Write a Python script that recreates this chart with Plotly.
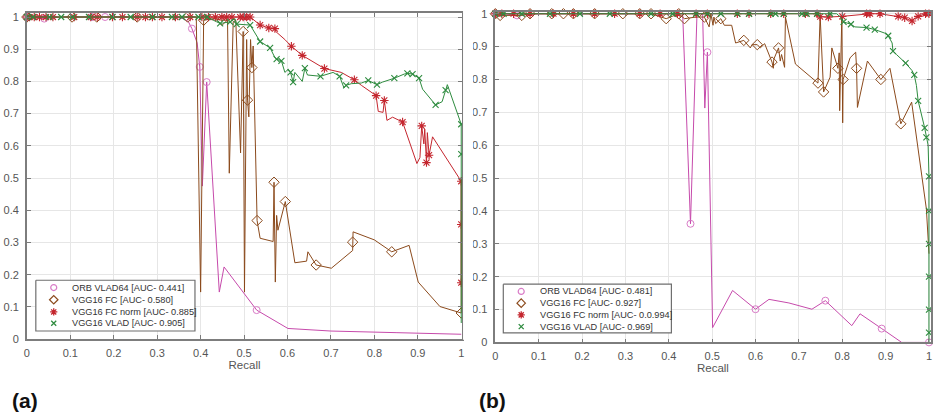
import plotly.graph_objects as go

W, H = 933, 418

# ---------------------------------------------------------------- labels
SERIES_NAMES = ["ORB VLAD64", "VGG16 FC", "VGG16 FC norm", "VGG16 VLAD"]
AUC_A = ["0.441", "0.580", "0.885", "0.905"]
AUC_B = ["0.481", "0.927", "0.0.994", "0.969"]
TICK_VALS = [0, 0.1, 0.2, 0.3, 0.4, 0.5, 0.6, 0.7, 0.8, 0.9, 1.0]
TICK_TEXT = ["0", "0.1", "0.2", "0.3", "0.4", "0.5", "0.6", "0.7", "0.8", "0.9", "1"]
PANEL_LABELS = ["(a)", "(b)"]
X_TITLE = "Recall"

# ---------------------------------------------------------------- panel (a)
orb_a_r = [0.000, 0.010, 0.040, 0.080, 0.150, 0.180, 0.250, 0.300, 0.340, 0.360, 0.372, 0.380,
           0.392, 0.398, 0.404, 0.414, 0.443, 0.454, 0.529, 0.601, 0.700, 0.850, 1.000]
orb_a_p = [1.000, 1.000, 0.995, 1.000, 1.000, 1.000, 1.000, 1.000, 1.000, 0.995, 0.985, 0.964,
           0.920, 0.845, 0.475, 0.798, 0.146, 0.224, 0.090, 0.033, 0.025, 0.020, 0.015]
orb_a_marks = [0, 2, 4, 5, 11, 13, 15, 18]

fc_a_r = [0.000, 0.050, 0.104, 0.161, 0.200, 0.254, 0.300, 0.370, 0.390, 0.400, 0.407, 0.430,
          0.449, 0.462, 0.466, 0.475, 0.481, 0.492, 0.498, 0.501, 0.506, 0.508, 0.511, 0.515,
          0.518, 0.521, 0.530, 0.537, 0.567, 0.569, 0.572, 0.575, 0.578, 0.595, 0.617, 0.644,
          0.647, 0.666, 0.701, 0.750, 0.750, 0.751, 0.800, 0.840, 0.880, 0.901, 0.951, 1.000,
          1.000]
fc_a_p = [1.000, 1.000, 1.000, 1.000, 1.000, 1.000, 1.000, 1.000, 1.000, 0.146, 0.990, 0.995,
          0.990, 0.990, 0.515, 0.985, 0.990, 0.578, 0.955, 0.146, 0.930, 0.742, 0.690, 0.930,
          0.843, 0.910, 0.368, 0.313, 0.303, 0.487, 0.177, 0.384, 0.338, 0.427, 0.237, 0.242,
          0.271, 0.230, 0.220, 0.275, 0.301, 0.333, 0.308, 0.271, 0.291, 0.177, 0.101, 0.081,
          0.490]
fc_a_marks = [0, 2, 3, 5, 7, 10, 12, 18, 21, 24, 26, 29, 33, 37, 40, 43, 47]

fcn_a_r = [0.000, 0.006, 0.017, 0.029, 0.044, 0.060, 0.109, 0.147, 0.162, 0.197, 0.220, 0.254,
           0.273, 0.289, 0.311, 0.342, 0.376, 0.403, 0.418, 0.434, 0.449, 0.460, 0.472, 0.491,
           0.498, 0.506, 0.514, 0.537, 0.552, 0.557, 0.571, 0.573, 0.594, 0.609, 0.634, 0.659,
           0.685, 0.724, 0.754, 0.770, 0.804, 0.809, 0.820, 0.823, 0.829, 0.842, 0.865, 0.898,
           0.905, 0.909, 0.914, 0.916, 0.920, 0.922, 0.926, 0.934, 1.000, 1.000, 1.000]
fcn_a_p = [1.000] * 27 + [
           0.975, 0.970, 0.966, 0.964, 0.955, 0.930, 0.909, 0.881, 0.861, 0.840, 0.828, 0.805,
           0.788, 0.756, 0.707, 0.704, 0.741, 0.679, 0.689, 0.674, 0.545, 0.564, 0.662, 0.606,
           0.652, 0.548, 0.641, 0.571, 0.628, 0.490, 0.356, 0.175]
fcn_a_marks = list(range(27)) + [27, 29, 30, 33, 34, 36, 38, 40, 43, 46, 49, 52, 54, 56, 57, 58]

vlad_a_r = [0.000, 0.014, 0.052, 0.079, 0.105, 0.143, 0.197, 0.239, 0.289, 0.334, 0.357, 0.395,
            0.415, 0.437, 0.445, 0.468, 0.479, 0.483, 0.514, 0.537, 0.560, 0.571, 0.575, 0.586,
            0.590, 0.594, 0.602, 0.607, 0.613, 0.617, 0.634, 0.640, 0.646, 0.676, 0.705, 0.720,
            0.730, 0.735, 0.747, 0.770, 0.786, 0.806, 0.819, 0.846, 0.869, 0.876, 0.888, 0.903,
            0.911, 0.941, 0.956, 0.964, 0.968, 1.000, 1.000, 1.000]
vlad_a_p = [1.000] * 13 + [
            0.985, 0.980, 0.985, 0.995, 0.978, 0.975, 0.924, 0.904, 0.874, 0.869, 0.864, 0.848,
            0.828, 0.838, 0.828, 0.798, 0.828, 0.800, 0.841, 0.820, 0.816, 0.828, 0.816, 0.780,
            0.788, 0.793, 0.795, 0.803, 0.790, 0.798, 0.810, 0.823, 0.825, 0.823, 0.810, 0.776,
            0.727, 0.737, 0.773, 0.790, 0.667, 0.574, 0.050]
vlad_a_marks = list(range(13)) + [14, 15, 17, 18, 19, 20, 22, 23, 27, 28, 31, 33, 35, 37, 40,
                                  41, 43, 45, 46, 47, 49, 51, 53, 54]

# ---------------------------------------------------------------- panel (b)
orb_b_r = [0.000, 0.019, 0.050, 0.100, 0.150, 0.200, 0.250, 0.300, 0.350, 0.400, 0.432, 0.450,
           0.465, 0.478, 0.483, 0.489, 0.501, 0.547, 0.600, 0.631, 0.677, 0.730, 0.761, 0.822,
           0.841, 0.891, 0.937, 1.000]
orb_b_p = [1.000, 1.000, 0.995, 1.000, 1.000, 1.000, 1.000, 1.000, 1.000, 1.000, 1.000, 0.361,
           1.000, 1.000, 0.713, 0.883, 0.045, 0.158, 0.101, 0.131, 0.120, 0.101, 0.127, 0.051,
           0.087, 0.042, 0.000, 0.000]
orb_b_marks = [0, 2, 11, 15, 18, 22, 25, 27]

fc_b_r = [0.000, 0.011, 0.061, 0.080, 0.130, 0.157, 0.180, 0.229, 0.294, 0.333, 0.359, 0.394,
          0.423, 0.436, 0.463, 0.482, 0.493, 0.497, 0.502, 0.504, 0.508, 0.520, 0.528, 0.545,
          0.554, 0.573, 0.588, 0.592, 0.604, 0.611, 0.621, 0.638, 0.641, 0.642, 0.653, 0.657,
          0.660, 0.667, 0.669, 0.692, 0.744, 0.749, 0.757, 0.772, 0.776, 0.790, 0.793, 0.794,
          0.799, 0.801, 0.802, 0.818, 0.825, 0.831, 0.833, 0.835, 0.858, 0.889, 0.910, 0.935,
          0.960, 0.994, 1.000]
fc_b_p = [1.000, 0.995, 0.995, 1.000, 1.000, 1.000, 1.000, 1.000, 1.000, 1.000, 1.000, 0.985,
          1.000, 0.985, 0.990, 0.990, 0.960, 1.000, 0.965, 0.990, 0.970, 0.985, 0.965, 0.965,
          0.911, 0.919, 0.896, 0.906, 0.906, 0.896, 0.909, 0.853, 0.834, 0.861, 0.896, 0.856,
          0.876, 0.837, 0.990, 0.847, 0.789, 0.995, 0.762, 0.807, 0.896, 0.834, 0.881, 0.705,
          0.990, 0.668, 0.800, 0.866, 0.876, 0.883, 0.834, 0.715, 0.856, 0.800, 0.834, 0.665,
          0.731, 0.406, 0.270]
fc_b_marks = list(range(14)) + [15, 21, 25, 28, 31, 34, 40, 42, 45, 50, 54, 57, 59]

fcn_b_r = [0.000, 0.015, 0.042, 0.080, 0.134, 0.180, 0.229, 0.275, 0.333, 0.380, 0.420, 0.463,
           0.489, 0.558, 0.585, 0.635, 0.665, 0.715, 0.742, 0.749, 0.768, 0.800, 0.856, 0.864,
           0.887, 0.929, 0.944, 0.956, 0.961, 0.966, 0.975, 0.992, 1.000]
fcn_b_p = [1.000] * 19 + [
           0.991, 0.990, 0.992, 1.000, 1.000, 1.000, 0.992, 0.988, 0.980, 0.978, 0.985, 0.992,
           1.000, 1.000]
fcn_b_marks = [i for i in range(33) if i not in (27, 29)]

vlad_b_r = [0.000, 0.019, 0.061, 0.126, 0.195, 0.264, 0.359, 0.409, 0.463, 0.489, 0.520, 0.558,
            0.585, 0.635, 0.646, 0.665, 0.707, 0.718, 0.742, 0.772, 0.787, 0.800, 0.803, 0.820,
            0.829, 0.856, 0.875, 0.898, 0.906, 0.915, 0.917, 0.925, 0.946, 0.961, 0.966, 0.971,
            0.975, 0.990, 0.994, 0.998, 1.000, 1.000, 1.000, 1.000, 1.000, 1.000, 1.000]
vlad_b_p = [1.000] * 21 + [
            0.985, 0.975, 0.968, 0.960, 0.958, 0.952, 0.941, 0.933, 0.911, 0.886, 0.876, 0.850,
            0.827, 0.814, 0.782, 0.735, 0.653, 0.624, 0.600, 0.505, 0.400, 0.300, 0.200, 0.100,
            0.030, 0.000]
vlad_b_marks = list(range(20)) + [22, 23, 25, 26, 28, 30, 32, 34, 36, 37, 38, 40, 41, 42, 43,
                                  44, 45]

PANEL_A = [(orb_a_r, orb_a_p, orb_a_marks), (fc_a_r, fc_a_p, fc_a_marks),
           (fcn_a_r, fcn_a_p, fcn_a_marks), (vlad_a_r, vlad_a_p, vlad_a_marks)]
PANEL_B = [(orb_b_r, orb_b_p, orb_b_marks), (fc_b_r, fc_b_p, fc_b_marks),
           (fcn_b_r, fcn_b_p, fcn_b_marks), (vlad_b_r, vlad_b_p, vlad_b_marks)]

# ---------------------------------------------------------------- styles
FONT = "Liberation Sans, Arial, sans-serif"
STYLES = [
    dict(line="#C64AAB", mcolor="#D97CC7", symbol="circle-open", size=7, mw=1.0, lsize=6),
    dict(line="#8B4A1C", mcolor="#8B4A1C", symbol="diamond-open", size=8, mw=1.0, lsize=6.5),
    dict(line="#C4262E", mcolor="#C4262E", symbol="asterisk-open", size=7, mw=1.1, lsize=6),
    dict(line="#2E8B3F", mcolor="#2E8B3F", symbol="x-thin-open", size=6, mw=1.1, lsize=5),
]

fig = go.Figure()


def add_panel(series, xa, ya):
    for (r, p, marks), st in zip(series, STYLES):
        fig.add_trace(go.Scatter(
            x=r, y=p, mode="lines", xaxis=xa, yaxis=ya,
            line=dict(color=st["line"], width=1), cliponaxis=False,
            hoverinfo="skip", showlegend=False))
        fig.add_trace(go.Scatter(
            x=[r[i] for i in marks], y=[p[i] for i in marks], mode="markers",
            xaxis=xa, yaxis=ya, cliponaxis=False, hoverinfo="skip", showlegend=False,
            marker=dict(symbol=st["symbol"], size=st["size"], color=st["mcolor"],
                        line=dict(color=st["mcolor"], width=st["mw"]))))


add_panel(PANEL_A, "x", "y")
add_panel(PANEL_B, "x2", "y2")

# ---------------------------------------------------------------- overlay in pixel units
# white strip that trims the y tick labels of panel (b) at its left edge
fig.add_trace(go.Scatter(
    x=[462.5, 472.5, 472.5, 462.5, 462.5], y=[0, 0, 344, 344, 0], mode="lines",
    fill="toself", fillcolor="white", line=dict(width=0),
    xaxis="x3", yaxis="y3", hoverinfo="skip", showlegend=False))

annotations = []


def add_legend(box, mk_x, txt_x, rows, aucs):
    x0, y0, x1, y1 = box
    fig.add_trace(go.Scatter(
        x=[x0, x1, x1, x0, x0], y=[y0, y0, y1, y1, y0], mode="lines", fill="toself",
        fillcolor="white", line=dict(color="#6f6f6f", width=1.2),
        xaxis="x3", yaxis="y3", hoverinfo="skip", showlegend=False))
    for name, auc, row, st in zip(SERIES_NAMES, aucs, rows, STYLES):
        fig.add_trace(go.Scatter(
            x=[mk_x], y=[row], mode="markers", xaxis="x3", yaxis="y3",
            hoverinfo="skip", showlegend=False,
            marker=dict(symbol=st["symbol"], size=st["lsize"], color=st["mcolor"],
                        line=dict(color=st["mcolor"], width=st["mw"] + 0.2))))
        annotations.append(dict(
            x=txt_x, y=row, xref="x3", yref="y3", xanchor="left", yanchor="middle",
            text=f"{name} [AUC- {auc}]", showarrow=False,
            font=dict(family=FONT, size=9.2, color="#333333")))


add_legend((33, 283, 193, 335), 51, 67.5, [290.5, 303, 315.5, 327], AUC_A)
add_legend((503, 287, 672, 337), 521, 537.5, [294.5, 306.5, 318.5, 330.5], AUC_B)

for label, px in zip(PANEL_LABELS, [7, 477]):
    annotations.append(dict(
        x=px, y=406, xref="x3", yref="y3", xanchor="left", yanchor="middle",
        text=f"<b>{label}</b>", showarrow=False,
        font=dict(family=FONT, size=21, color="#111111")))

# ---------------------------------------------------------------- axes
axis_common = dict(
    tickmode="array", tickvals=TICK_VALS, ticktext=TICK_TEXT,
    ticks="inside", ticklen=4, tickwidth=1, tickcolor="#7a7a7a",
    showline=True, linecolor="#7d7d7d", linewidth=1.5, mirror="ticks",
    showgrid=True, gridcolor="#e6e6e6", gridwidth=1, zeroline=False,
    tickfont=dict(family=FONT, size=11, color="#555555"), fixedrange=True,
)
xtitle = dict(text=X_TITLE, font=dict(family=FONT, size=11.5, color="#555555"), standoff=3)


def px_x(v):
    return v / W


def px_y(v):
    return (H - v) / H


fig.update_layout(
    width=W, height=H, margin=dict(l=0, r=0, t=0, b=0),
    paper_bgcolor="white", plot_bgcolor="rgba(0,0,0,0)",
    showlegend=False,
    xaxis=dict(axis_common, domain=[px_x(24), px_x(461.7)], range=[0, 1.0023],
               anchor="y", title=xtitle, ticklabelstandoff=3),
    yaxis=dict(axis_common, domain=[px_y(343.3), px_y(9.7)], range=[0, 1.011],
               anchor="x", ticklabelstandoff=4),
    xaxis2=dict(axis_common, domain=[px_x(495), px_x(932.5)], range=[0, 1.0035],
                anchor="y2", title=xtitle, ticklabelstandoff=3),
    yaxis2=dict(axis_common, domain=[px_y(346.7), px_y(8.3)], range=[0, 1.005],
                anchor="x2", ticklabelstandoff=4),
    xaxis3=dict(domain=[0, 1], range=[0, W], visible=False, fixedrange=True, anchor="y3"),
    yaxis3=dict(domain=[0, 1], range=[H, 0], visible=False, fixedrange=True, anchor="x3"),
    annotations=annotations,
)

fig.write_html("out.html")
